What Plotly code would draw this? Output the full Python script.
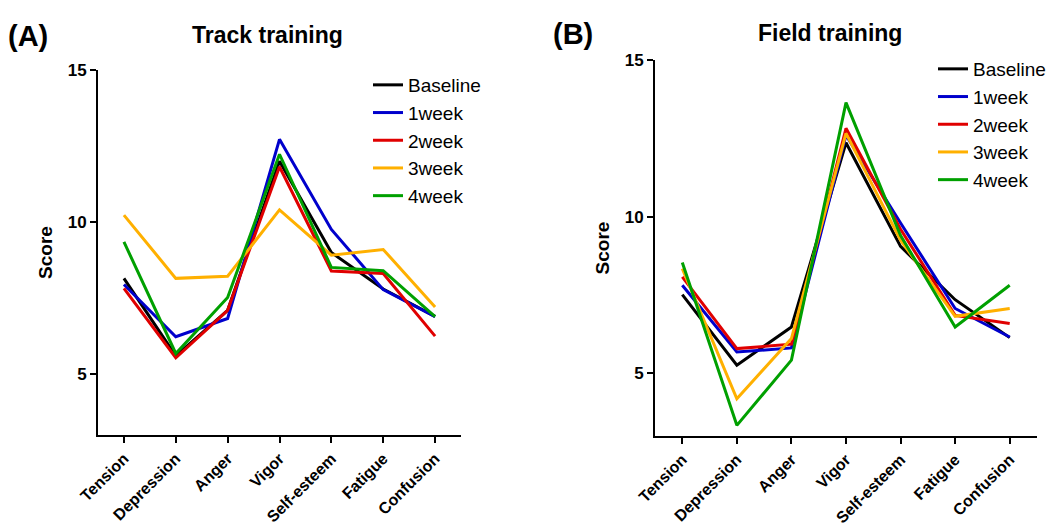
import plotly.graph_objects as go

categories = ["Tension", "Depression", "Anger", "Vigor", "Self-esteem", "Fatigue", "Confusion"]
series_names = ["Baseline", "1week", "2week", "3week", "4week"]
colors = ["#000000", "#0000CC", "#E00000", "#FFB000", "#00A000"]

track_baseline = [8.15, 5.6, 7.1, 12.0, 9.0, 7.8, 6.9]
track_1week = [7.95, 6.23, 6.83, 12.72, 9.76, 7.78, 6.89]
track_2week = [7.82, 5.54, 7.1, 11.82, 8.39, 8.31, 6.25]
track_3week = [10.23, 8.15, 8.22, 10.4, 8.91, 9.1, 7.21]
track_4week = [9.35, 5.68, 7.52, 12.23, 8.51, 8.4, 6.89]

field_baseline = [7.51, 5.26, 6.48, 12.36, 9.05, 7.35, 6.14]
field_1week = [7.81, 5.68, 5.81, 12.6, 9.8, 7.07, 6.16]
field_2week = [8.08, 5.79, 5.93, 12.82, 9.6, 6.85, 6.59]
field_3week = [8.34, 4.19, 6.11, 12.66, 9.25, 6.82, 7.07]
field_4week = [8.54, 3.34, 5.42, 13.64, 9.4, 6.48, 7.81]

y_ticks = [5, 10, 15]

track = [track_baseline, track_1week, track_2week, track_3week, track_4week]
field = [field_baseline, field_1week, field_2week, field_3week, field_4week]

W, H = 1059, 528
FONT = "Liberation Sans, Arial, sans-serif"

fig = go.Figure()
for name, col, vals in zip(series_names, colors, track):
    fig.add_trace(go.Scatter(x=categories, y=vals, mode="lines", name=name,
                             line=dict(color=col, width=3), xaxis="x", yaxis="y",
                             legend="legend"))
for name, col, vals in zip(series_names, colors, field):
    fig.add_trace(go.Scatter(x=categories, y=vals, mode="lines", name=name,
                             line=dict(color=col, width=3), xaxis="x2", yaxis="y2",
                             legend="legend2"))

def px_x(p):
    return p / W

def px_y(p):
    return 1 - p / H

def axis_style(size):
    return dict(showgrid=False, zeroline=False, showline=True, linecolor="black",
                linewidth=2, ticks="outside", ticklen=6, tickwidth=2, tickcolor="black",
                tickfont=dict(family=FONT, size=size, color="black", weight="bold"),
                automargin=False)

title_font = dict(family=FONT, size=19, color="black", weight="bold")
legend_font = dict(family=FONT, size=19, color="black")

fig.update_layout(
    width=W, height=H,
    margin=dict(l=0, r=0, t=0, b=0),
    paper_bgcolor="white", plot_bgcolor="white",
    showlegend=True,
    xaxis=dict(domain=[px_x(98), px_x(461)], anchor="y", type="category",
               range=[-0.5, 6.5], tickangle=-45, **axis_style(16)),
    yaxis=dict(domain=[px_y(435), px_y(70)], anchor="x", range=[3, 15],
               tickvals=y_ticks,
               title=dict(text="Score", standoff=10, font=title_font),
               **axis_style(17)),
    xaxis2=dict(domain=[px_x(655), px_x(1037)], anchor="y2", type="category",
                range=[-0.5, 6.5], tickangle=-45, **axis_style(16)),
    yaxis2=dict(domain=[px_y(436), px_y(60)], anchor="x2", range=[3, 15],
                tickvals=y_ticks,
                title=dict(text="Score", standoff=10, font=title_font),
                **axis_style(17)),
    legend=dict(x=px_x(368), y=px_y(66), xanchor="left", yanchor="top",
                font=legend_font, bgcolor="rgba(0,0,0,0)", itemwidth=30,
                tracegroupgap=0),
    legend2=dict(x=px_x(933), y=px_y(50), xanchor="left", yanchor="top",
                 font=legend_font, bgcolor="rgba(0,0,0,0)", itemwidth=30,
                 tracegroupgap=0),
    annotations=[
        dict(text="(A)", x=px_x(6), y=px_y(36), xref="paper", yref="paper",
             xanchor="left", yanchor="middle", showarrow=False,
             font=dict(family=FONT, size=29, color="black", weight="bold")),
        dict(text="Track training", x=px_x(267), y=px_y(35), xref="paper", yref="paper",
             xanchor="center", yanchor="middle", showarrow=False,
             font=dict(family=FONT, size=23, color="black", weight="bold")),
        dict(text="(B)", x=px_x(551), y=px_y(34), xref="paper", yref="paper",
             xanchor="left", yanchor="middle", showarrow=False,
             font=dict(family=FONT, size=29, color="black", weight="bold")),
        dict(text="Field training", x=px_x(830), y=px_y(33), xref="paper", yref="paper",
             xanchor="center", yanchor="middle", showarrow=False,
             font=dict(family=FONT, size=23, color="black", weight="bold")),
    ],
)

fig.write_html("out.html")
